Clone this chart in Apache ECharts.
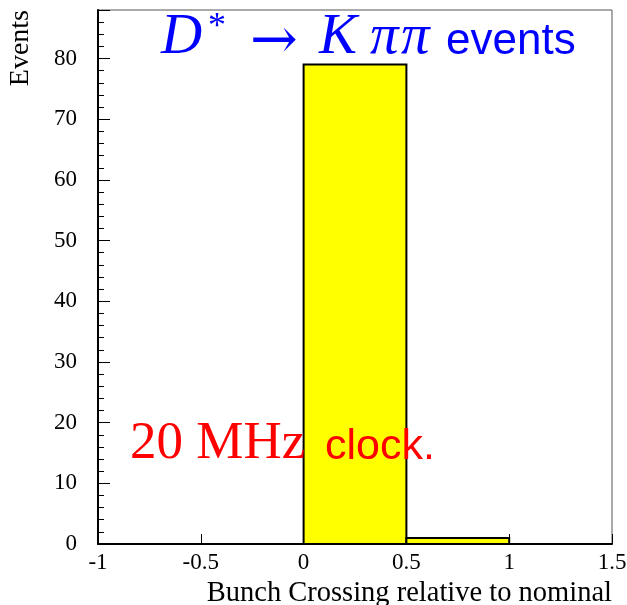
<!DOCTYPE html>
<html>
<head>
<meta charset="utf-8">
<script src="https://cdn.jsdelivr.net/npm/echarts@6/dist/echarts.min.js"></script>
<style>
  html, body { margin: 0; padding: 0; background: #fff; }
  #chart { width: 627px; height: 605px; }
</style>
</head>
<body>
<div id="chart"></div>
<script>
// histogram bins: [low edge, high edge]
const binLow = [0, 0.5];
const binHigh = [0.5, 1];
const counts = [79, 1];

const xTicks = [-1, -0.5, 0, 0.5, 1, 1.5];
const yTicks = [0, 10, 20, 30, 40, 50, 60, 70, 80];

const serif = '"Liberation Serif", "Times New Roman", serif';
const sans = '"Liberation Sans", Arial, sans-serif';

let myChart = echarts.init(document.querySelector('#chart'), null, {
    width: 627,
    height: 605,
    renderer: 'canvas'
});

const histData = counts.map((c, i) => [binLow[i], binHigh[i], c]);

// a piece of label text, placed by its bottom edge
function piece(txt, x, y, font, size, color, extra) {
  return {
    type: 'text',
    z: 100,
    x: x,
    y: y,
    style: Object.assign({
      text: txt,
      fill: color,
      fontFamily: font,
      fontSize: size,
      verticalAlign: 'bottom',
      align: 'left'
    }, extra || {})
  };
}

let option = {
  animation: false,
  backgroundColor: '#fff',
  grid: {
    left: 98,
    right: 15,
    top: 10,
    bottom: 61,
    outerBoundsMode: 'none',
    containLabel: false,
    show: true,
    borderColor: '#555',
    borderWidth: 1
  },
  xAxis: {
    type: 'value',
    min: -1,
    max: 1.5,
    interval: 0.5,
    axisLine: { lineStyle: { color: '#000', width: 2 } },
    axisTick: { inside: true, length: 10, lineStyle: { color: '#000' } },
    splitLine: { show: false },
    axisLabel: {
      color: '#000',
      fontFamily: serif,
      fontSize: 23,
      margin: 7,
      formatter: v => xTicks.includes(v) ? String(v) : ''
    },
    name: 'Bunch Crossing relative to nominal',
    nameLocation: 'end',
    nameGap: 0,
    nameTextStyle: {
      fontFamily: serif,
      fontSize: 28.5,
      color: '#000',
      align: 'right',
      verticalAlign: 'top',
      padding: [35, 0, 0, 0]
    }
  },
  yAxis: {
    type: 'value',
    min: 0,
    max: 88,
    interval: 10,
    axisLine: { show: true, onZero: false, lineStyle: { color: '#000', width: 2 } },
    axisTick: { show: true, inside: true, length: 12, lineStyle: { color: '#000' } },
    minorTick: { show: true, splitNumber: 5, length: 6, lineStyle: { color: '#000' } },
    splitLine: { show: false },
    axisLabel: {
      color: '#000',
      fontFamily: serif,
      fontSize: 23,
      margin: 21,
      showMaxLabel: false,
      formatter: v => yTicks.includes(v) ? String(v) : ''
    },
    name: 'Events',
    nameLocation: 'end',
    nameRotate: 90,
    nameGap: 0,
    nameTextStyle: {
      fontFamily: serif,
      fontSize: 28,
      color: '#000',
      align: 'right',
      verticalAlign: 'bottom',
      padding: [0, 0, 63, 0]
    }
  },
  series: [
    {
      type: 'custom',
      data: histData,
      encode: { x: [0, 1], y: 2 },
      renderItem: function (params, api) {
        const p0 = api.coord([api.value(0), api.value(2)]);
        const p1 = api.coord([api.value(1), 0]);
        return {
          type: 'rect',
          shape: { x: p0[0], y: p0[1], width: p1[0] - p0[0], height: p1[1] - p0[1] },
          style: { fill: '#ffff00', stroke: '#000', lineWidth: 2 }
        };
      }
    }
  ],
  graphic: [
    piece('D', 161, 67, serif, 57, '#0000ff', { fontStyle: 'italic' }),
    piece('*', 208, 46, serif, 36, '#0000ff'),
    piece('→', 250, 72, '"DejaVu Serif", serif', 57, '#0000ff'),
    piece('K', 319, 67, serif, 57, '#0000ff', { fontStyle: 'italic' }),
    piece('π', 370, 67, serif, 57, '#0000ff', { fontStyle: 'italic' }),
    piece('π', 401, 67, serif, 57, '#0000ff', { fontStyle: 'italic' }),
    piece('events', 446, 64, sans, 44, '#0000ff'),
    piece('20 MHz', 130, 471, serif, 53, '#ff0000'),
    piece('clock.', 325, 469, sans, 43, '#ff0000')
  ]
};

myChart.setOption(option);
</script>
</body>
</html>
